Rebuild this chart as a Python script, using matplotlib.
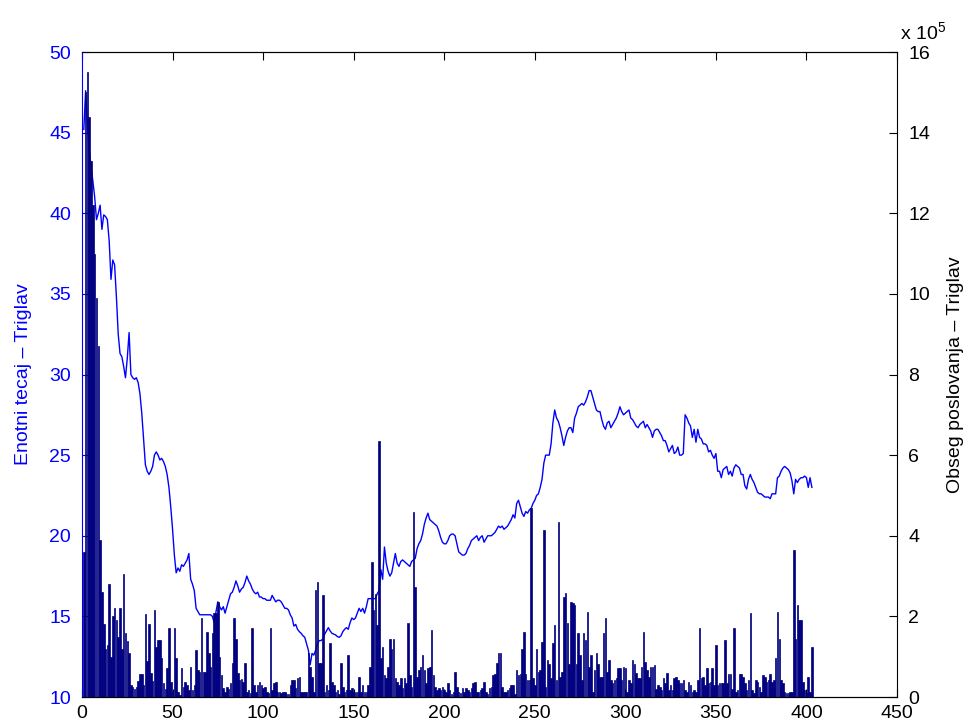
import numpy as np
import matplotlib
matplotlib.use('Agg')
import matplotlib.pyplot as plt

plt.rcParams['font.family'] = ['Liberation Sans', 'DejaVu Sans']
plt.rcParams['mathtext.fontset'] = 'custom'
plt.rcParams['mathtext.rm'] = 'Liberation Sans'

# enotni tecaj (levi y) po dnevih
price = [
    45.2, 47.6, 45.5, 44.0, 42.8, 42.0, 41.0, 39.6, 40.0, 40.5, 39.0, 39.9, 39.8, 39.6, 38.3, 35.9, 37.1, 36.8, 34.8, 32.5,
    31.3, 31.1, 30.5, 29.8, 31.0, 32.6, 30.0, 29.8, 29.7, 29.8, 29.5, 28.8, 27.6, 26.0, 24.4, 24.0, 23.8, 24.0, 24.3, 25.0,
    25.2, 25.0, 24.7, 24.8, 24.6, 24.3, 23.8, 23.0, 21.8, 20.4, 18.8, 17.7, 18.0, 17.8, 18.2, 18.1, 18.3, 18.5, 18.9, 17.3,
    17.0, 16.6, 15.5, 15.3, 15.1, 15.1, 15.1, 15.1, 15.1, 15.1, 15.1, 15.0, 14.6, 15.3, 15.9, 15.6, 15.4, 15.6, 15.2, 15.6,
    16.0, 16.4, 16.5, 16.8, 17.2, 16.9, 16.5, 16.7, 16.8, 17.1, 17.5, 17.2, 17.0, 16.7, 16.5, 16.4, 16.5, 16.2, 16.2, 16.1,
    16.1, 16.0, 16.0, 16.0, 16.3, 16.1, 15.9, 16.0, 16.0, 15.9, 15.7, 15.5, 15.5, 15.4, 15.1, 14.9, 14.4, 14.5, 14.2, 14.05,
    13.95, 13.8, 13.7, 13.3, 12.9, 12.0, 12.7, 12.6, 12.9, 13.3, 13.5, 13.5, 13.6, 13.9, 14.1, 14.3, 14.1, 13.95, 13.9, 13.85,
    13.75, 13.7, 13.8, 14.05, 14.2, 14.3, 14.2, 14.6, 14.9, 14.8, 14.9, 15.2, 15.5, 15.3, 15.5, 15.2, 15.6, 16.1, 16.1, 16.1,
    16.1, 16.1, 16.4, 16.6, 17.9, 17.3, 19.3, 18.3, 17.8, 17.5, 17.7, 18.3, 18.9, 18.3, 18.1, 18.4, 18.5, 18.4, 18.3, 18.2,
    18.1, 18.4, 18.5, 18.6, 19.2, 19.5, 19.7, 20.1, 20.7, 21.1, 21.4, 21.0, 20.9, 20.8, 20.7, 20.6, 20.3, 19.9, 19.6, 19.5,
    19.5, 19.7, 20.0, 20.1, 20.1, 20.0, 19.5, 19.0, 18.9, 18.8, 18.8, 18.9, 19.2, 19.4, 19.7, 19.8, 19.9, 20.0, 19.7, 19.9,
    20.0, 19.6, 19.8, 20.0, 20.0, 20.0, 20.1, 20.2, 20.4, 20.6, 20.5, 20.6, 20.4, 20.5, 20.6, 20.8, 21.0, 21.3, 21.1, 22.0,
    22.2, 21.8, 21.4, 21.2, 21.5, 21.4, 21.6, 21.7, 22.0, 22.2, 22.5, 22.6, 23.0, 23.5, 24.5, 25.0, 25.0, 25.0, 25.7, 27.0,
    27.8, 27.3, 27.1, 26.7, 26.2, 25.6, 26.1, 26.5, 26.7, 26.7, 26.4, 27.3, 27.6, 28.0, 28.1, 28.2, 28.1, 28.3, 28.6, 29.0,
    29.0, 28.6, 28.2, 27.8, 27.7, 27.7, 27.2, 26.8, 26.6, 27.0, 27.1, 26.7, 26.9, 27.1, 27.3, 27.6, 28.0, 27.7, 27.5, 27.6,
    27.7, 27.8, 27.3, 27.2, 27.0, 26.8, 26.7, 26.9, 27.0, 27.1, 26.7, 26.9, 26.7, 26.5, 26.1, 26.5, 26.6, 26.6, 26.4, 26.2,
    25.9, 25.9, 25.6, 25.2, 25.4, 25.6, 25.1, 25.2, 25.5, 25.0, 25.0, 25.1, 27.5, 27.3, 27.0, 26.8, 26.1, 26.6, 25.8, 26.6,
    26.1, 26.0, 25.7, 25.7, 25.6, 25.2, 25.3, 25.0, 24.8, 25.1, 24.0, 24.0, 23.6, 24.1, 24.2, 24.3, 23.8, 24.0, 23.7, 24.2,
    24.4, 24.3, 24.2, 23.8, 23.8, 23.1, 22.9, 23.5, 23.8, 23.5, 23.3, 23.0, 22.7, 22.6, 22.6, 22.5, 22.4, 22.4, 22.4, 22.3,
    22.6, 22.6, 22.6, 23.6, 23.7, 24.0, 24.2, 24.3, 24.2, 24.1, 23.9, 23.4, 22.6, 23.5, 23.3, 23.5, 23.6, 23.6, 23.7, 23.6,
    23.0, 23.6, 23.0,
]

# obseg poslovanja (desni y), v enotah 10^5
volume = [
    3.6, 15.0, 15.5, 14.4, 13.3, 12.2, 11.0, 9.9, 8.7, 3.9, 2.6, 1.8, 1.2, 1.3, 2.8, 1.0, 2.0, 2.2, 1.9, 1.5,
    2.2, 1.2, 3.05, 1.6, 1.4, 1.1, 0.3, 0.26, 0.2, 0.26, 0.4, 0.57, 0.57, 0.3, 2.07, 0.9, 1.8, 0.6, 0.4, 2.16,
    1.25, 1.41, 1.41, 0.96, 0.34, 0.2, 0.71, 1.70, 0.38, 0.13, 1.70, 0.96, 0.13, 0.05, 0.71, 0.26, 0.38, 0.3, 0.17, 0.75,
    0.17, 0.3, 1.17, 0.67, 0.63, 1.95, 0.63, 0.63, 1.62, 1.08, 0.75, 1.58, 2.08, 2.08, 2.36, 1.0, 0.54, 0.22, 0.13, 0.26, 0.2,
    0.34, 0.84, 1.95, 1.45, 0.6, 0.42, 0.45, 0.38, 0.84, 0.13, 0.17, 0.1, 1.70, 0.3, 0.13, 0.3, 0.38, 0.3, 0.22, 0.26,
    0.13, 0.1, 1.70, 0.17, 0.34, 0.38, 0.13, 0.13, 0.09, 0.13, 0.13, 0.07, 0.07, 0.3, 0.42, 0.42, 0.22, 0.46, 0.5, 0.13, 0.13,
    0.13, 0.13, 1.1, 0.75, 0.5, 0.13, 2.66, 2.86, 0.84, 0.84, 2.53, 0.13, 0.3, 0.17, 1.33, 0.38, 0.3, 0.13, 0.17, 0.07,
    0.84, 0.26, 0.13, 0.17, 1.04, 0.17, 0.22, 0.13, 0.13, 0.13, 0.5, 0.13, 0.3, 0.13, 0.13, 0.3, 0.75, 3.35, 2.16, 2.56, 1.78, 6.34,
    0.96, 1.25, 0.54, 0.46, 0.75, 1.45, 1.2, 1.45, 0.46, 0.38, 0.3, 0.46, 0.22, 0.46, 0.34, 1.83, 0.54, 0.26, 4.6, 2.74,
    0.5, 0.67, 0.75, 1.04, 0.67, 0.34, 0.71, 0.75, 1.66, 0.54, 0.26, 0.17, 0.22, 0.17, 0.26, 0.17, 0.13, 0.34, 0.17, 0.07, 0.13, 0.63,
    0.26, 0.13, 0.1, 0.22, 0.13, 0.22, 0.17, 0.13, 0.22, 0.34, 0.38, 0.13, 0.13, 0.17, 0.22, 0.38, 0.13, 0.07, 0.22, 0.26,
    0.54, 0.58, 0.84, 1.08, 1.08, 0.26, 0.13, 0.13, 0.17, 0.22, 0.3, 0.3, 0.07, 0.67, 0.54, 0.58, 1.2, 1.62, 0.58, 0.42,
    0.42, 4.68, 0.47, 0.3, 1.2, 0.62, 0.67, 1.37, 4.14, 0.26, 0.92, 0.83, 0.47, 1.33, 1.78, 0.42, 4.35, 0.5, 0.62, 2.49,
    2.57, 1.83, 0.83, 2.36, 2.32, 2.28, 0.83, 1.58, 1.04, 0.42, 1.58, 1.41, 2.12, 0.75, 1.04, 0.13, 0.67, 1.08, 0.83, 0.5, 0.5, 1.58, 1.95,
    0.63, 0.92, 0.42, 0.34, 0.42, 0.47, 0.71, 0.71, 0.42, 0.75, 0.71, 0.13, 0.42, 0.34, 0.92, 0.83, 0.59, 0.47, 0.47, 0.75,
    1.62, 0.88, 0.67, 0.5, 0.75, 0.75, 0.79, 0.21, 0.3, 0.26, 0.17, 0.47, 0.34, 0.59, 0.17, 0.3, 0.17, 0.47, 0.5, 0.42, 0.34,
    0.34, 0.42, 0.17, 0.13, 0.38, 0.3, 0.13, 0.17, 0.13, 0.42, 1.7, 0.47, 0.5, 0.3, 0.71, 0.34, 0.38, 0.71, 0.3, 1.29,
    0.3, 0.34, 0.34, 0.34, 1.41, 0.34, 0.58, 0.58, 0.21, 1.7, 0.13, 0.17, 0.58, 0.58, 0.5, 0.34, 0.17, 0.42, 2.08, 0.17, 0.09,
    0.42, 0.38, 0.26, 0.13, 0.54, 0.5, 0.38, 0.42, 0.58, 0.38, 0.42, 0.96, 2.12, 1.45, 0.42, 0.34, 0.13, 0.09, 0.09, 0.13,
    0.13, 3.65, 1.45, 2.28, 1.92, 1.92, 0.38, 0.17, 0.09, 0.5, 0.13, 1.25,
]

x_ticks = [0, 50, 100, 150, 200, 250, 300, 350, 400, 450]
left_ticks = [10, 15, 20, 25, 30, 35, 40, 45, 50]
right_ticks = [0, 2, 4, 6, 8, 10, 12, 14, 16]

days_p = np.arange(1, len(price) + 1)
days_v = np.arange(1, len(volume) + 1)

fig = plt.figure(figsize=(9.71, 7.28), dpi=100)
ax1 = fig.add_axes([82 / 971, 31 / 728, 815 / 971, 645 / 728])
ax1.plot(days_p, price, color='#0000ff', linewidth=1.0)
ax1.set_xlim(0, 450)
ax1.set_ylim(10, 50)
ax1.set_xticks(x_ticks)
ax1.set_yticks(left_ticks)
ax1.tick_params(axis='x', direction='in', length=6, top=True, labelsize=14, colors='black', pad=6)
ax1.tick_params(axis='y', direction='in', length=6, labelsize=14, colors='#0000ff', pad=8)
ax1.spines['left'].set_color('#0000ff')
ax1.spines['right'].set_visible(False)
ax1.set_ylabel('Enotni tecaj – Triglav', color='#0000ff', fontsize=14, labelpad=12)

# stolpci (desna os) nad crto, kot pri plotyy
ax2 = ax1.twinx()
ax2.bar(days_v, volume, width=0.85, color='#000080', edgecolor='#000080', linewidth=0.5)
ax2.set_ylim(0, 16)
ax2.set_xlim(0, 450)
ax2.set_yticks(right_ticks)
ax2.tick_params(axis='y', direction='in', length=6, labelsize=14, colors='black', pad=8)
ax2.spines['left'].set_visible(False)
ax2.set_ylabel('Obseg poslovanja – Triglav', color='black', fontsize=14, labelpad=12)

fig.text(900 / 971, 1 - 40 / 728, r'x 10$^{5}$', fontsize=14, ha='left', va='baseline')

plt.savefig('out.png', dpi=100)
